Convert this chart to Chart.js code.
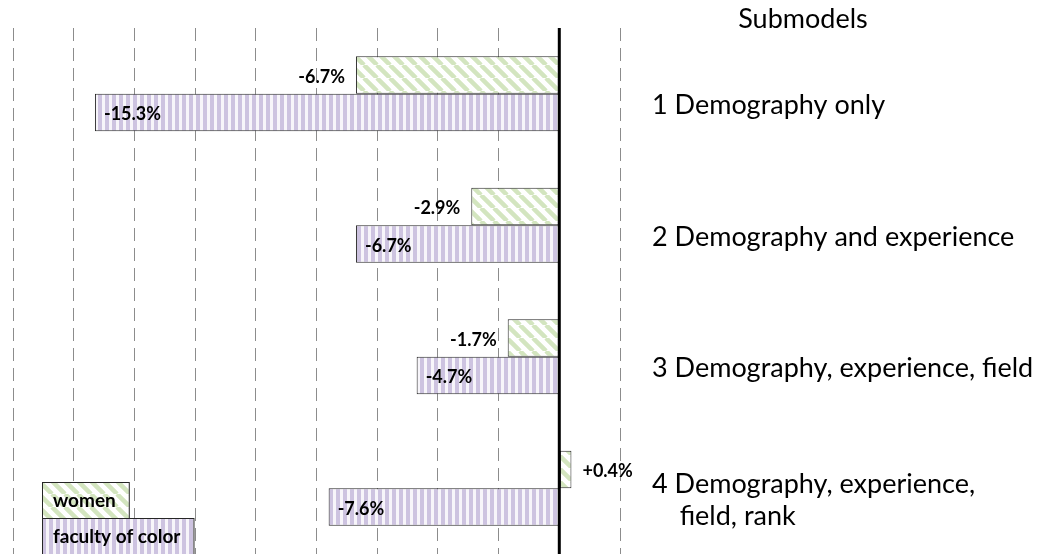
<!DOCTYPE html>
<html>
<head>
<meta charset="utf-8">
<script src="https://cdn.jsdelivr.net/npm/chart.js@4.4.1/dist/chart.umd.min.js"></script>
<style>
  html, body { margin: 0; padding: 0; background: #fff; }
</style>
</head>
<body>
<canvas id="gapChart" width="1039" height="554"></canvas>
<script>
/** Pay gap by submodel: women vs faculty of color */

const submodels = [
  '1 Demography only',
  '2 Demography and experience',
  '3 Demography, experience, field',
  ['4 Demography, experience,', '    field, rank']
];
const seriesNames = ['women', 'faculty of color'];
const womenGap = [-6.7, -2.9, -1.7, 0.4];
const colorGap = [-15.3, -6.7, -4.7, -7.6];
const axisMin = -18;
const axisMax = 2;
const axisStep = 2;

const FONT = 'Lato, "Open Sans", sans-serif';

function makePattern(kind) {
  const tile = document.createElement('canvas');
  const c = tile.getContext('2d');
  if (kind === 'diag') {
    const s = 13;
    tile.width = s; tile.height = s;
    c.fillStyle = '#fff';
    c.fillRect(0, 0, s, s);
    c.strokeStyle = '#d3e5bf';
    c.lineWidth = 4.5;
    c.beginPath();
    for (const o of [-s, 0, s]) { c.moveTo(o, 0); c.lineTo(o + s, s); }
    c.stroke();
  } else {
    tile.width = 7; tile.height = 7;
    c.fillStyle = '#f7f5fa';
    c.fillRect(0, 0, 7, 7);
    c.fillStyle = '#cdc3e0';
    c.fillRect(0, 0, 4, 7);
  }
  return c.createPattern(tile, 'repeat');
}

const greenFill = makePattern('diag');
const purpleFill = makePattern('vert');
const fills = [greenFill, purpleFill];

const fmt = v => (v > 0 ? '+' : '') + v.toFixed(1) + '%';

const decorPlugin = {
  id: 'decor',
  afterDatasetsDraw(chart) {
    const { ctx, chartArea, scales } = chart;
    const x0 = scales.x.getPixelForValue(0);

    ctx.save();
    // zero line
    ctx.strokeStyle = '#000';
    ctx.lineWidth = 3;
    ctx.beginPath();
    ctx.moveTo(x0, chartArea.top);
    ctx.lineTo(x0, chartArea.bottom);
    ctx.stroke();

    // value labels
    ctx.font = 'bold 18px ' + FONT;
    ctx.fillStyle = '#000';
    ctx.textBaseline = 'middle';
    chart.data.datasets.forEach((ds, di) => {
      chart.getDatasetMeta(di).data.forEach((bar, i) => {
        const v = ds.data[i];
        if (di === 0) {
          ctx.textAlign = v < 0 ? 'right' : 'left';
          ctx.fillText(fmt(v), v < 0 ? bar.x - 11 : bar.x + 11, bar.y + 2);
        } else {
          ctx.textAlign = 'left';
          ctx.fillText(fmt(v), bar.x + 9, bar.y + 2);
        }
      });
    });

    // legend boxes, bottom left
    const lx = 42, ly = 482, rowH = 36;
    ctx.font = 'bold 19px ' + FONT;
    seriesNames.forEach((name, i) => {
      const w = ctx.measureText(name).width + 24;
      const y = ly + i * rowH;
      ctx.fillStyle = fills[i];
      ctx.fillRect(lx, y, w, rowH);
      ctx.strokeStyle = '#262626';
      ctx.lineWidth = 1;
      ctx.strokeRect(lx + 0.5, y + 0.5, w, rowH);
      ctx.fillStyle = '#000';
      ctx.textAlign = 'left';
      ctx.fillText(name, lx + 11, y + rowH / 2 + 1);
    });
    ctx.restore();
  },
  afterDraw(chart) {
    const { ctx } = chart;
    ctx.save();
    ctx.font = '27px ' + FONT;
    ctx.fillStyle = '#000';
    ctx.textAlign = 'center';
    ctx.textBaseline = 'middle';
    ctx.fillText('Submodels', chart.chartArea.right + 183, 19);
    ctx.restore();
  }
};

new Chart(document.getElementById('gapChart'), {
  type: 'bar',
  data: {
    labels: submodels,
    datasets: [
      { label: seriesNames[0], data: womenGap, backgroundColor: greenFill, borderColor: '#262626', borderWidth: 1, borderSkipped: false },
      { label: seriesNames[1], data: colorGap, backgroundColor: purpleFill, borderColor: '#262626', borderWidth: 1, borderSkipped: false }
    ]
  },
  options: {
    indexAxis: 'y',
    responsive: false,
    animation: false,
    devicePixelRatio: 1,
    layout: { padding: { left: 13, top: 28, right: 0, bottom: 0 } },
    datasets: { bar: { categoryPercentage: 0.57, barPercentage: 1 } },
    plugins: { legend: { display: false }, tooltip: { enabled: false } },
    scales: {
      x: {
        type: 'linear',
        min: axisMin,
        max: axisMax,
        ticks: { display: false, stepSize: axisStep },
        grid: { color: '#8c8c8c', lineWidth: 1, drawTicks: false },
        border: { display: false, dash: [13, 7] }
      },
      y: {
        position: 'right',
        grid: { display: false, drawTicks: false },
        border: { display: false },
        ticks: { padding: 32, labelOffset: 12, color: '#000', font: { family: FONT, size: 27 } },
        afterFit: s => {
          s.width = 419;
          s.paddingTop = 0;
          s.paddingBottom = 0;
        }
      }
    }
  },
  plugins: [decorPlugin]
});
</script>
</body>
</html>
